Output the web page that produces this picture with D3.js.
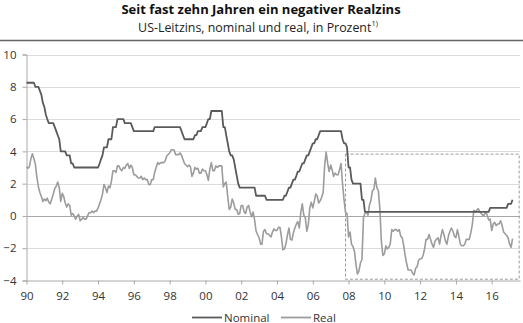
<!DOCTYPE html>
<html><head><meta charset="utf-8">
<script src="https://cdn.jsdelivr.net/npm/d3@7"></script>
<style>body{margin:0;background:#fff}svg{display:block}text{font-family:"Open Sans",sans-serif}</style>
</head><body><svg id="c" width="523" height="323"></svg>
<script>
// Monthly data, Jan 1990 – Mar 2017
const startMonth = "1990-01";
const nominal = [
 8.25,8.25,8.25,8.25,8.25,8.25,8.0,8.0,8.0,7.75,7.5,7.0,
 6.75,6.25,6.0,5.75,5.75,5.75,5.75,5.5,5.25,5.0,4.75,4.0,
 4.0,4.0,4.0,3.75,3.75,3.75,3.25,3.25,3.0,3.0,3.0,3.0,
 3.0,3.0,3.0,3.0,3.0,3.0,3.0,3.0,3.0,3.0,3.0,3.0,
 3.0,3.25,3.5,3.75,4.25,4.25,4.25,4.75,4.75,4.75,5.5,5.5,
 5.5,6.0,6.0,6.0,6.0,6.0,5.75,5.75,5.75,5.75,5.75,5.5,
 5.25,5.25,5.25,5.25,5.25,5.25,5.25,5.25,5.25,5.25,5.25,5.25,
 5.25,5.25,5.5,5.5,5.5,5.5,5.5,5.5,5.5,5.5,5.5,5.5,
 5.5,5.5,5.5,5.5,5.5,5.5,5.5,5.5,5.25,5.0,4.75,4.75,
 4.75,4.75,4.75,4.75,4.75,5.0,5.0,5.25,5.25,5.25,5.5,5.5,
 5.5,5.75,6.0,6.0,6.5,6.5,6.5,6.5,6.5,6.5,6.5,6.5,
 5.5,5.5,5.0,4.5,4.0,3.75,3.75,3.5,3.0,2.5,2.0,1.75,
 1.75,1.75,1.75,1.75,1.75,1.75,1.75,1.75,1.75,1.75,1.25,1.25,
 1.25,1.25,1.25,1.25,1.25,1.0,1.0,1.0,1.0,1.0,1.0,1.0,
 1.0,1.0,1.0,1.0,1.0,1.25,1.25,1.5,1.75,1.75,2.0,2.25,
 2.25,2.5,2.75,2.75,3.0,3.25,3.25,3.5,3.75,3.75,4.0,4.25,
 4.5,4.5,4.75,4.75,5.0,5.25,5.25,5.25,5.25,5.25,5.25,5.25,
 5.25,5.25,5.25,5.25,5.25,5.25,5.25,5.25,4.75,4.5,4.5,4.25,
 3.0,3.0,2.25,2.0,2.0,2.0,2.0,2.0,2.0,1.0,1.0,0.25,
 0.25,0.25,0.25,0.25,0.25,0.25,0.25,0.25,0.25,0.25,0.25,0.25,
 0.25,0.25,0.25,0.25,0.25,0.25,0.25,0.25,0.25,0.25,0.25,0.25,
 0.25,0.25,0.25,0.25,0.25,0.25,0.25,0.25,0.25,0.25,0.25,0.25,
 0.25,0.25,0.25,0.25,0.25,0.25,0.25,0.25,0.25,0.25,0.25,0.25,
 0.25,0.25,0.25,0.25,0.25,0.25,0.25,0.25,0.25,0.25,0.25,0.25,
 0.25,0.25,0.25,0.25,0.25,0.25,0.25,0.25,0.25,0.25,0.25,0.25,
 0.25,0.25,0.25,0.25,0.25,0.25,0.25,0.25,0.25,0.25,0.25,0.5,
 0.5,0.5,0.5,0.5,0.5,0.5,0.5,0.5,0.5,0.5,0.5,0.75,
 0.75,0.75,1.0
];
const real = [
 3.05,2.95,3.05,3.55,3.85,3.55,3.2,2.4,1.8,1.45,1.2,0.9,
 1.05,0.95,1.1,0.85,0.75,1.05,1.35,1.7,1.85,2.1,1.75,0.9,
 1.4,1.2,0.8,0.55,0.75,0.65,0.05,0.15,0.0,-0.2,0.0,0.1,
 -0.3,-0.2,-0.1,-0.2,-0.2,0.0,0.2,0.2,0.3,0.2,0.3,0.3,
 0.5,0.75,1.0,1.35,1.95,1.75,1.45,1.85,1.75,2.15,2.8,2.8,
 2.7,3.1,3.1,2.9,2.8,3.0,2.95,3.15,3.25,2.95,3.15,3.0,
 2.55,2.55,2.45,2.35,2.35,2.45,2.25,2.35,2.25,2.25,1.95,1.95,
 2.25,2.25,2.7,3.0,3.3,3.2,3.3,3.3,3.3,3.4,3.7,3.8,
 3.9,4.1,4.1,4.1,3.8,3.8,3.8,3.9,3.75,3.5,3.25,3.15,
 3.05,3.15,3.05,2.45,2.65,3.0,2.9,2.95,2.65,2.65,2.9,2.8,
 2.8,2.55,2.2,2.9,3.3,2.8,2.8,3.1,3.0,3.1,3.1,3.1,
 1.8,2.0,2.1,1.2,0.4,0.55,1.05,0.8,0.4,0.4,0.1,0.15,
 0.65,0.65,0.25,0.15,0.55,0.65,0.25,-0.05,0.25,-0.25,-0.95,-1.15,
 -1.35,-1.75,-1.75,-0.95,-0.85,-1.1,-1.1,-1.2,-1.3,-1.0,-0.8,-0.9,
 -0.9,-0.7,-0.7,-1.3,-2.1,-2.05,-1.75,-1.2,-0.75,-1.45,-1.5,-1.05,
 -0.75,-0.5,-0.35,-0.75,0.2,0.75,0.05,-0.1,-0.95,-0.55,0.5,0.85,
 0.5,0.9,1.35,1.25,0.8,0.95,1.15,1.45,3.15,3.95,3.25,2.75,
 3.15,2.85,2.45,2.65,2.55,2.55,2.85,3.25,1.95,1.0,0.2,0.15,
 -1.3,-1.0,-1.75,-1.9,-2.2,-3.0,-3.6,-3.4,-2.9,-2.7,-0.1,0.15,
 0.25,0.05,0.65,0.95,1.55,1.65,2.35,1.75,1.55,0.45,-1.55,-2.45,
 -2.35,-1.85,-2.05,-1.95,-1.75,-0.85,-0.95,-0.85,-0.85,-0.95,-0.85,-1.25,
 -1.35,-1.85,-2.45,-2.95,-3.35,-3.35,-3.35,-3.55,-3.65,-3.25,-3.15,-2.75,
 -2.65,-2.65,-2.45,-2.05,-1.45,-1.45,-1.15,-1.45,-1.75,-1.95,-1.55,-1.45,
 -1.35,-1.75,-1.25,-0.85,-1.15,-1.55,-1.75,-1.25,-0.95,-0.75,-0.95,-1.25,
 -1.35,-0.85,-1.25,-1.75,-1.85,-1.85,-1.75,-1.45,-1.45,-1.45,-1.05,-0.55,
 0.35,0.25,0.35,0.45,0.25,0.15,0.05,0.05,0.25,0.05,-0.25,-0.2,
 -0.9,-0.5,-0.4,-0.6,-0.5,-0.5,-0.3,-0.6,-1.0,-1.1,-1.2,-1.35,
 -1.75,-1.95,-1.4
];
const yTicks = [-4,-2,0,2,4,6,8,10];
const xTickYears = [1990,1992,1994,1996,1998,2000,2002,2004,2006,2008,2010,2012,2014,2016];
const xTickLabels = ["90","92","94","96","98","00","02","04","06","08","10","12","14","16"];
const seriesNames = ["Nominal","Real"];
const highlight = {from:"2007-11-01", to:"2017-07-15", top:3.83, bottom:-3.92};
const title = "Seit fast zehn Jahren ein negativer Realzins";
const subtitle = "US-Leitzins, nominal und real, in Prozent";

const parse = d3.timeParse("%Y-%m");
const months = nominal.map((_, i) => d3.timeMonth.offset(parse(startMonth), i));

const svg = d3.select("#c");
const x = d3.scaleTime().domain([new Date(1990,0,1), new Date(2017,7,1)]).range([26.5, 520]);
const y = d3.scaleLinear().domain([-4,10]).range([280.5, 54.5]);

// title
svg.append("text").attr("x",261).attr("y",14).attr("text-anchor","middle")
  .attr("font-size",13).attr("font-weight","bold").attr("fill","#111").text(title);
const st = svg.append("text").attr("x",258).attr("y",31.5).attr("text-anchor","middle")
  .attr("font-size",12.4).attr("fill","#222");
st.append("tspan").text(subtitle);
st.append("tspan").attr("font-size",7.5).attr("dy",-5.5).text("1)");
svg.append("line").attr("x1",0).attr("x2",523).attr("y1",40.5).attr("y2",40.5)
  .attr("stroke","#666").attr("stroke-width",1.5);

// grid
svg.append("g").selectAll("line").data(yTicks.filter(d=>d!==-4)).join("line")
  .attr("x1",26.5).attr("x2",520).attr("y1",d=>Math.round(y(d))+0.5).attr("y2",d=>Math.round(y(d))+0.5)
  .attr("stroke",d=>d===0?"#a8a8a8":"#dcdcdc").attr("stroke-width",1);

// y axis
const ya = svg.append("g").attr("transform","translate(26.5,0)")
  .call(d3.axisLeft(y).tickValues(yTicks).tickSize(4).tickPadding(6));
ya.select(".domain").attr("stroke","#a8a8a8");
ya.selectAll(".tick line").attr("stroke","#a8a8a8");
ya.selectAll(".tick text").attr("font-size",11.5).attr("fill","#333").attr("font-family","Open Sans");

// x axis
const xa = svg.append("g").attr("transform",`translate(0,${y(-4)})`)
  .call(d3.axisBottom(x).tickValues(xTickYears.map(yr=>new Date(yr,0,1)))
    .tickFormat((d,i)=>xTickLabels[i]).tickSize(4).tickSizeOuter(0).tickPadding(7));
xa.select(".domain").attr("stroke","#a8a8a8");
xa.selectAll(".tick line").attr("stroke","#a8a8a8");
xa.selectAll(".tick text").attr("font-size",11.5).attr("fill","#333").attr("font-family","Open Sans");

// highlight box
svg.append("rect")
  .attr("x",x(new Date(highlight.from))).attr("y",y(highlight.top))
  .attr("width",x(new Date(highlight.to))-x(new Date(highlight.from)))
  .attr("height",y(highlight.bottom)-y(highlight.top))
  .attr("fill","none").attr("stroke","#9a9a9a").attr("stroke-dasharray","3,2").attr("stroke-width",1);

// lines
const colors = ["#5a5a5a","#9c9c9c"];
const line = d3.line().x((d,i)=>x(months[i])).y(d=>y(d));
svg.append("path").datum(real).attr("d",line).attr("fill","none").attr("stroke",colors[1]).attr("stroke-width",1.6).attr("stroke-linejoin","round");
svg.append("path").datum(nominal).attr("d",line).attr("fill","none").attr("stroke",colors[0]).attr("stroke-width",1.8).attr("stroke-linejoin","round");

// legend
const lg = svg.append("g");
const lx = [192,281];
seriesNames.forEach((n,i)=>{
  lg.append("line").attr("x1",lx[i]).attr("x2",lx[i]+30).attr("y1",317.5).attr("y2",317.5)
    .attr("stroke",colors[i]).attr("stroke-width",1.8);
  lg.append("text").attr("x",lx[i]+32).attr("y",321.5).attr("font-size",11.5).attr("fill","#333").text(n);
});
</script></body></html>
